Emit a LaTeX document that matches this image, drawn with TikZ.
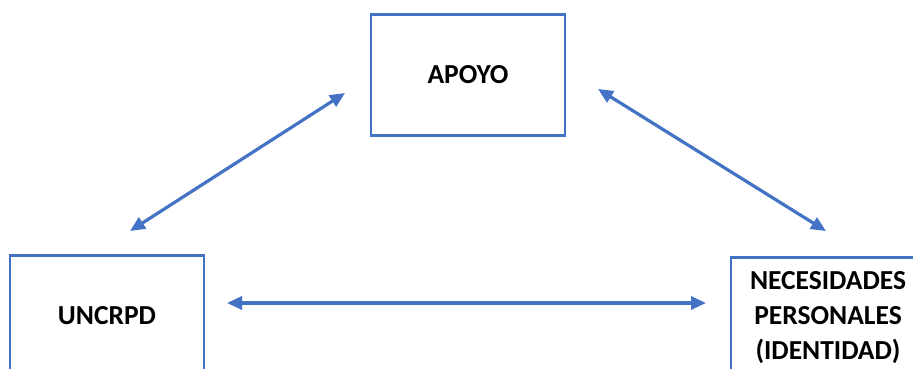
\documentclass[tikz,border=0pt]{standalone}
\usepackage{fontspec}
\setmainfont{Carlito}
\usetikzlibrary{arrows.meta}
\definecolor{boxblue}{HTML}{4472C4}
\tikzset{
  box/.style={draw=boxblue, line width=2.2pt, minimum width=194pt, minimum height=121pt, inner sep=0pt, align=center, font=\fontsize{27.5}{35}\selectfont\bfseries},
  link/.style={draw=boxblue, line width=3.2pt, {Triangle[length=15pt,width=13pt]}-{Triangle[length=15pt,width=13pt]}}
}
\begin{document}
\begin{tikzpicture}[x=1pt,y=-1pt]
\useasboundingbox (0,0) rectangle (913,369);
\clip (0,0) rectangle (913,369);
\fill[white] (0,0) rectangle (913,369);
\node[box] (apoyo) at (468,75) {APOYO};
\node[box] (uncrpd) at (107,316) {UNCRPD};
\node[box] (nec) at (828,318) {NECESIDADES\\PERSONALES\\(IDENTIDAD)};
\coordinate (l1) at (130,231);
\coordinate (l2) at (345,93);
\coordinate (r1) at (598,89);
\coordinate (r2) at (826,231);
\coordinate (h1) at (227,303);
\coordinate (h2) at (706,303);
\draw[link] (l1) -- (l2);
\draw[link] (r1) -- (r2);
\draw[link] (h1) -- (h2);
\end{tikzpicture}
\end{document}
